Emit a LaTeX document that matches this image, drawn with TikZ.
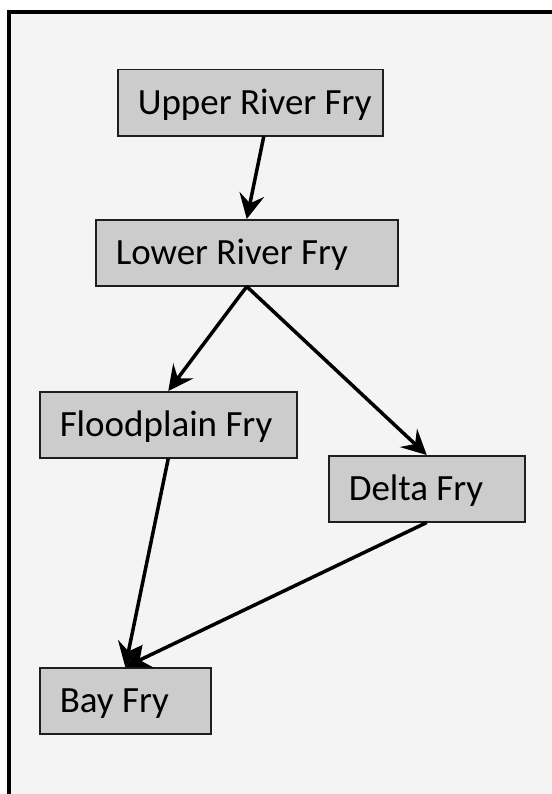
\documentclass[tikz,border=0pt]{standalone}
\usepackage{fontspec}
\setmainfont{Carlito}
\usetikzlibrary{arrows.meta}
\definecolor{pagegray}{HTML}{F4F4F4}
\definecolor{boxgray}{HTML}{CCCCCC}
\definecolor{edgegray}{HTML}{1E1E1E}
\newcommand{\frylabel}[2]{\makebox[#1][l]{#2}}
\begin{document}
\begin{tikzpicture}[x=1bp,y=-1bp,
  fry/.style={draw=edgegray, fill=boxgray, line width=1.5bp, anchor=north west,
    inner xsep=20bp, inner ysep=0pt, minimum height=66bp,
    font=\fontsize{37bp}{40bp}\selectfont, text height=23.5bp, text depth=0pt},
  flow/.style={line width=3.5bp, -{Stealth[length=25bp,width=25bp,inset=9bp]}}]
\useasboundingbox (0,0) rectangle (552,794);
\fill[white] (0,0) rectangle (552,794);
\draw[line width=4bp, fill=pagegray] (9,12) rectangle (600,850);
\node[fry] (up) at (117,69) {\frylabel{225bp}{Upper River Fry}};
\node[fry] (low) at (95,219) {\frylabel{262bp}{Lower River Fry}};
\node[fry] (flood) at (39,391) {\frylabel{217bp}{Floodplain Fry}};
\node[fry] (delta) at (328,455) {\frylabel{156bp}{Delta Fry}};
\node[fry] (bay) at (39,667) {\frylabel{131bp}{Bay Fry}};
\path[flow]
  ([xshift=13.5bp]up.south) edge (low.north)
  (low.south) edge (flood.north)
  (low.south) edge (delta.north)
  (flood.south) edge (bay.north)
  (delta.south) edge (bay.north);
\end{tikzpicture}
\end{document}
